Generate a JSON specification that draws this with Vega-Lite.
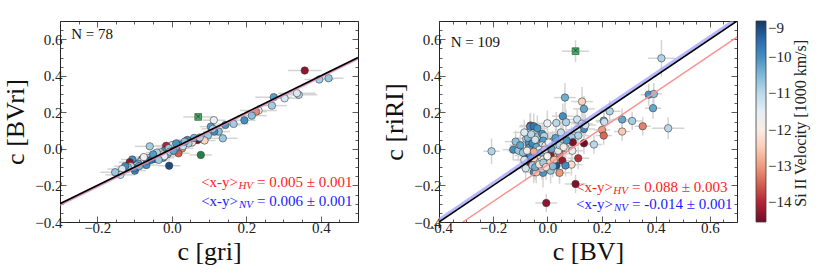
{
  "$schema": "https://vega.github.io/schema/vega-lite/v6.json",
  "background": "white",
  "padding": {"left": 2, "top": 13, "right": 4, "bottom": 4},
  "config": {
    "font": "Liberation Serif",
    "view": {"stroke": "#222", "strokeWidth": 1},
    "axis": {"domain": false, "grid": false, "labelFont": "Liberation Serif", "labelFontSize": 15, "labelColor": "#222", "tickColor": "#333", "tickWidth": 0.8, "titleFont": "Liberation Serif", "titleFontSize": 26, "titleFontWeight": "normal", "titleColor": "#111", "labelFlush": false, "labelOverlap": false},
    "legend": {"direction": "vertical", "gradientLength": 201, "gradientThickness": 10, "gradientStrokeColor": "#333", "gradientStrokeWidth": 0.8, "labelFont": "Liberation Serif", "labelFontSize": 15, "labelColor": "#222", "labelOffset": 5}
  },
  "datasets": {
    "L": [
      {"x":0.421,"y":0.387,"xe":0.04,"ye":0.01,"v":-10.7},
      {"x":0.396,"y":0.380,"xe":0.04,"ye":0.015,"v":-10.8},
      {"x":0.357,"y":0.429,"xe":0.045,"ye":0.015,"v":-14.3},
      {"x":0.341,"y":0.296,"xe":0.05,"ye":0.01,"v":-11.0},
      {"x":0.336,"y":0.305,"xe":0.05,"ye":0.01,"v":-11.4},
      {"x":0.303,"y":0.277,"xe":0.04,"ye":0.01,"v":-11.3},
      {"x":0.274,"y":0.283,"xe":0.05,"ye":0.01,"v":-10.2},
      {"x":0.269,"y":0.237,"xe":0.04,"ye":0.01,"v":-10.8},
      {"x":0.233,"y":0.210,"xe":0.05,"ye":0.015,"v":-11.5},
      {"x":0.226,"y":0.204,"xe":0.03,"ye":0.01,"v":-13.1},
      {"x":0.215,"y":0.182,"xe":0.04,"ye":0.01,"v":-10.6},
      {"x":0.195,"y":0.157,"xe":0.03,"ye":0.01,"v":-10.0},
      {"x":0.166,"y":0.137,"xe":0.04,"ye":0.01,"v":-10.8},
      {"x":0.144,"y":0.131,"xe":0.04,"ye":0.01,"v":-10.1},
      {"x":0.137,"y":0.058,"xe":0.04,"ye":0.01,"v":-10.7},
      {"x":0.126,"y":0.095,"xe":0.03,"ye":0.01,"v":-10.6},
      {"x":0.114,"y":0.095,"xe":0.03,"ye":0.01,"v":-10.0},
      {"x":0.113,"y":0.157,"xe":0.03,"ye":0.02,"v":-11.6},
      {"x":0.105,"y":0.122,"xe":0.03,"ye":0.01,"v":-10.2},
      {"x":0.110,"y":0.110,"xe":0.03,"ye":0.01,"v":-10.9},
      {"x":0.097,"y":0.073,"xe":0.03,"ye":0.01,"v":-10.7},
      {"x":0.088,"y":0.046,"xe":0.03,"ye":0.01,"v":-12.4},
      {"x":0.069,"y":0.049,"xe":0.03,"ye":0.01,"v":-14.5},
      {"x":0.055,"y":0.036,"xe":0.03,"ye":0.01,"v":-12.2},
      {"x":0.042,"y":0.049,"xe":0.03,"ye":0.01,"v":-10.0},
      {"x":0.045,"y":0.030,"xe":0.03,"ye":0.01,"v":-10.9},
      {"x":0.028,"y":0.003,"xe":0.03,"ye":0.01,"v":-13.0},
      {"x":0.023,"y":0.024,"xe":0.03,"ye":0.01,"v":-10.2},
      {"x":0.018,"y":-0.024,"xe":0.03,"ye":0.01,"v":-13.5},
      {"x":0.030,"y":0.015,"xe":0.03,"ye":0.01,"v":-11.2},
      {"x":0.010,"y":0.005,"xe":0.03,"ye":0.01,"v":-10.6},
      {"x":0.001,"y":0.021,"xe":0.03,"ye":0.01,"v":-11.3},
      {"x":0.060,"y":0.060,"xe":0.03,"ye":0.01,"v":-10.4},
      {"x":0.075,"y":0.062,"xe":0.03,"ye":0.01,"v":-11.0},
      {"x":0.012,"y":0.030,"xe":0.03,"ye":0.01,"v":-10.1},
      {"x":-0.015,"y":0.017,"xe":0.03,"ye":0.01,"v":-14.0},
      {"x":-0.020,"y":-0.010,"xe":0.03,"ye":0.01,"v":-10.1},
      {"x":-0.007,"y":-0.092,"xe":0.03,"ye":0.01,"v":-9.2},
      {"x":-0.008,"y":0.004,"xe":0.03,"ye":0.01,"v":-10.8},
      {"x":-0.023,"y":-0.049,"xe":0.03,"ye":0.01,"v":-10.1},
      {"x":-0.059,"y":0.014,"xe":0.04,"ye":0.02,"v":-10.8},
      {"x":-0.034,"y":-0.046,"xe":0.03,"ye":0.01,"v":-10.0},
      {"x":-0.043,"y":-0.037,"xe":0.03,"ye":0.01,"v":-11.4},
      {"x":-0.030,"y":-0.020,"xe":0.03,"ye":0.01,"v":-12.0},
      {"x":-0.050,"y":-0.040,"xe":0.03,"ye":0.01,"v":-12.3},
      {"x":-0.045,"y":-0.055,"xe":0.03,"ye":0.01,"v":-10.2},
      {"x":-0.060,"y":-0.050,"xe":0.03,"ye":0.01,"v":-11.0},
      {"x":-0.068,"y":-0.088,"xe":0.03,"ye":0.01,"v":-10.0},
      {"x":-0.070,"y":-0.060,"xe":0.03,"ye":0.01,"v":-10.6},
      {"x":-0.079,"y":-0.055,"xe":0.03,"ye":0.01,"v":-9.8},
      {"x":-0.085,"y":-0.070,"xe":0.03,"ye":0.01,"v":-11.6},
      {"x":-0.090,"y":-0.080,"xe":0.03,"ye":0.01,"v":-10.3},
      {"x":-0.095,"y":-0.090,"xe":0.03,"ye":0.01,"v":-10.9},
      {"x":-0.099,"y":-0.119,"xe":0.03,"ye":0.01,"v":-9.9},
      {"x":-0.100,"y":-0.105,"xe":0.03,"ye":0.01,"v":-10.1},
      {"x":-0.106,"y":-0.058,"xe":0.03,"ye":0.01,"v":-10.0},
      {"x":-0.113,"y":-0.073,"xe":0.03,"ye":0.01,"v":-14.2},
      {"x":-0.110,"y":-0.095,"xe":0.03,"ye":0.01,"v":-11.1},
      {"x":-0.118,"y":-0.100,"xe":0.03,"ye":0.01,"v":-10.7},
      {"x":-0.125,"y":-0.095,"xe":0.03,"ye":0.01,"v":-10.0},
      {"x":-0.133,"y":-0.110,"xe":0.04,"ye":0.01,"v":-11.5},
      {"x":-0.138,"y":-0.142,"xe":0.04,"ye":0.01,"v":-11.2},
      {"x":-0.152,"y":-0.128,"xe":0.04,"ye":0.01,"v":-10.7},
      {"x":-0.012,"y":-0.030,"xe":0.03,"ye":0.01,"v":-10.5},
      {"x":-0.025,"y":-0.030,"xe":0.03,"ye":0.01,"v":-12.5},
      {"x":-0.040,"y":-0.020,"xe":0.03,"ye":0.01,"v":-10.9},
      {"x":-0.005,"y":-0.015,"xe":0.03,"ye":0.01,"v":-11.0},
      {"x":0.005,"y":-0.010,"xe":0.03,"ye":0.01,"v":-10.3},
      {"x":-0.065,"y":-0.065,"xe":0.03,"ye":0.01,"v":-10.4},
      {"x":-0.075,"y":-0.045,"xe":0.03,"ye":0.01,"v":-11.8},
      {"x":-0.055,"y":-0.060,"xe":0.03,"ye":0.01,"v":-9.7},
      {"x":-0.088,"y":-0.095,"xe":0.03,"ye":0.01,"v":-10.5},
      {"x":-0.020,"y":-0.040,"xe":0.03,"ye":0.01,"v":-11.6},
      {"x":-0.050,"y":-0.030,"xe":0.03,"ye":0.01,"v":-10.2},
      {"x":-0.035,"y":-0.060,"xe":0.03,"ye":0.01,"v":-10.8},
      {"x":0.035,"y":0.040,"xe":0.03,"ye":0.01,"v":-10.6},
      {"x":0.078,"y":-0.033,"xe":0.03,"ye":0.01,"g":"circle"},
      {"x":0.071,"y":0.175,"xe":0.04,"ye":0.015,"g":"square"}
    ],
    "R": [
      {"x":0.421,"y":0.496,"xe":0.05,"ye":0.10,"v":-10.9},
      {"x":0.374,"y":0.297,"xe":0.03,"ye":0.06,"v":-10.1},
      {"x":0.393,"y":0.301,"xe":0.03,"ye":0.06,"v":-10.6},
      {"x":0.390,"y":0.223,"xe":0.03,"ye":0.06,"v":-10.3},
      {"x":0.446,"y":0.113,"xe":0.06,"ye":0.06,"v":-11.0},
      {"x":0.352,"y":0.124,"xe":0.03,"ye":0.05,"v":-13.2},
      {"x":0.313,"y":0.153,"xe":0.04,"ye":0.05,"v":-10.8},
      {"x":0.276,"y":0.161,"xe":0.04,"ye":0.06,"v":-10.3},
      {"x":0.276,"y":0.095,"xe":0.03,"ye":0.05,"v":-12.5},
      {"x":0.230,"y":0.206,"xe":0.04,"ye":0.06,"v":-10.9},
      {"x":0.208,"y":0.155,"xe":0.03,"ye":0.06,"v":-10.4},
      {"x":0.210,"y":0.148,"xe":0.03,"ye":0.05,"v":-11.2},
      {"x":0.202,"y":0.104,"xe":0.03,"ye":0.05,"v":-13.0},
      {"x":0.208,"y":0.073,"xe":0.03,"ye":0.05,"v":-13.4},
      {"x":0.172,"y":0.024,"xe":0.03,"ye":0.05,"v":-11.0},
      {"x":0.128,"y":0.259,"xe":0.04,"ye":0.08,"v":-12.4},
      {"x":0.135,"y":0.219,"xe":0.04,"ye":0.07,"v":-10.3},
      {"x":0.065,"y":0.281,"xe":0.04,"ye":0.08,"v":-10.4},
      {"x":0.110,"y":0.161,"xe":0.04,"ye":0.06,"v":-11.2},
      {"x":0.057,"y":0.179,"xe":0.04,"ye":0.07,"v":-10.0},
      {"x":0.069,"y":0.146,"xe":0.04,"ye":0.07,"v":-10.9},
      {"x":0.033,"y":0.142,"xe":0.05,"ye":0.06,"v":-11.0},
      {"x":0.000,"y":0.140,"xe":0.04,"ye":0.07,"v":-11.6},
      {"x":0.128,"y":0.138,"xe":0.04,"ye":0.06,"v":-11.4},
      {"x":0.135,"y":0.109,"xe":0.04,"ye":0.06,"v":-10.0},
      {"x":0.110,"y":0.105,"xe":0.04,"ye":0.06,"v":-11.3},
      {"x":0.114,"y":0.073,"xe":0.04,"ye":0.06,"v":-10.9},
      {"x":0.089,"y":0.064,"xe":0.04,"ye":0.06,"v":-10.8},
      {"x":0.135,"y":0.031,"xe":0.04,"ye":0.06,"v":-14.5},
      {"x":0.094,"y":0.036,"xe":0.04,"ye":0.06,"v":-14.4},
      {"x":0.114,"y":-0.051,"xe":0.04,"ye":0.06,"v":-13.9},
      {"x":0.104,"y":-0.192,"xe":0.04,"ye":0.05,"v":-14.4},
      {"x":-0.004,"y":-0.296,"xe":0.04,"ye":0.05,"v":-14.3},
      {"x":0.055,"y":-0.064,"xe":0.04,"ye":0.06,"v":-14.2},
      {"x":0.045,"y":-0.027,"xe":0.04,"ye":0.06,"v":-13.2},
      {"x":0.089,"y":-0.086,"xe":0.04,"ye":0.06,"v":-12.3},
      {"x":0.071,"y":0.046,"xe":0.04,"ye":0.06,"v":-10.1},
      {"x":0.067,"y":0.004,"xe":0.04,"ye":0.06,"v":-11.3},
      {"x":0.092,"y":-0.010,"xe":0.04,"ye":0.06,"v":-11.6},
      {"x":0.067,"y":-0.091,"xe":0.04,"ye":0.06,"v":-10.0},
      {"x":0.045,"y":-0.131,"xe":0.04,"ye":0.06,"v":-13.0},
      {"x":0.033,"y":-0.091,"xe":0.04,"ye":0.06,"v":-9.3},
      {"x":0.012,"y":-0.119,"xe":0.04,"ye":0.07,"v":-10.7},
      {"x":-0.016,"y":-0.131,"xe":0.04,"ye":0.08,"v":-10.1},
      {"x":-0.020,"y":-0.108,"xe":0.04,"ye":0.06,"v":-11.1},
      {"x":-0.050,"y":-0.128,"xe":0.04,"ye":0.06,"v":-10.0},
      {"x":-0.041,"y":-0.128,"xe":0.04,"ye":0.06,"v":-12.5},
      {"x":-0.080,"y":-0.106,"xe":0.04,"ye":0.06,"v":-11.2},
      {"x":-0.206,"y":-0.013,"xe":0.03,"ye":0.07,"v":-10.9},
      {"x":-0.117,"y":0.040,"xe":0.04,"ye":0.06,"v":-10.6},
      {"x":-0.126,"y":-0.004,"xe":0.04,"ye":0.06,"v":-10.0},
      {"x":-0.107,"y":-0.009,"xe":0.04,"ye":0.06,"v":-10.7},
      {"x":-0.078,"y":0.055,"xe":0.04,"ye":0.06,"v":-11.1},
      {"x":-0.062,"y":0.128,"xe":0.04,"ye":0.07,"v":-13.6},
      {"x":-0.064,"y":0.122,"xe":0.04,"ye":0.07,"v":-10.0},
      {"x":-0.050,"y":0.124,"xe":0.04,"ye":0.07,"v":-9.8},
      {"x":-0.037,"y":0.113,"xe":0.04,"ye":0.07,"v":-10.1},
      {"x":-0.068,"y":0.031,"xe":0.04,"ye":0.06,"v":-10.1},
      {"x":-0.068,"y":0.005,"xe":0.04,"ye":0.06,"v":-10.2},
      {"x":-0.080,"y":-0.036,"xe":0.04,"ye":0.06,"v":-9.3},
      {"x":-0.064,"y":-0.073,"xe":0.04,"ye":0.06,"v":-14.3},
      {"x":-0.035,"y":0.069,"xe":0.04,"ye":0.06,"v":-10.7},
      {"x":-0.031,"y":0.027,"xe":0.04,"ye":0.06,"v":-10.2},
      {"x":-0.019,"y":0.082,"xe":0.04,"ye":0.06,"v":-10.1},
      {"x":-0.012,"y":0.070,"xe":0.04,"ye":0.06,"v":-11.0},
      {"x":-0.015,"y":0.045,"xe":0.04,"ye":0.06,"v":-10.2},
      {"x":-0.019,"y":0.020,"xe":0.04,"ye":0.06,"v":-11.4},
      {"x":-0.007,"y":0.018,"xe":0.04,"ye":0.06,"v":-12.2},
      {"x":0.003,"y":-0.018,"xe":0.04,"ye":0.06,"v":-9.2},
      {"x":0.012,"y":-0.033,"xe":0.04,"ye":0.06,"v":-14.2},
      {"x":0.006,"y":-0.065,"xe":0.04,"ye":0.06,"v":-12.4},
      {"x":-0.009,"y":-0.047,"xe":0.04,"ye":0.06,"v":-11.3},
      {"x":-0.025,"y":-0.052,"xe":0.04,"ye":0.06,"v":-11.5},
      {"x":-0.037,"y":-0.036,"xe":0.04,"ye":0.06,"v":-12.3},
      {"x":-0.043,"y":-0.073,"xe":0.04,"ye":0.06,"v":-11.4},
      {"x":-0.050,"y":-0.051,"xe":0.04,"ye":0.06,"v":-12.4},
      {"x":-0.062,"y":-0.036,"xe":0.04,"ye":0.06,"v":-10.1},
      {"x":-0.072,"y":0.060,"xe":0.04,"ye":0.06,"v":-10.5},
      {"x":-0.060,"y":0.080,"xe":0.04,"ye":0.07,"v":-11.0},
      {"x":-0.055,"y":0.030,"xe":0.04,"ye":0.06,"v":-10.0},
      {"x":-0.045,"y":0.050,"xe":0.04,"ye":0.06,"v":-11.3},
      {"x":-0.040,"y":0.010,"xe":0.04,"ye":0.06,"v":-10.4},
      {"x":-0.030,"y":-0.005,"xe":0.04,"ye":0.06,"v":-11.6},
      {"x":-0.022,"y":-0.020,"xe":0.04,"ye":0.06,"v":-10.6},
      {"x":-0.010,"y":-0.005,"xe":0.04,"ye":0.06,"v":-12.0},
      {"x":0.000,"y":-0.040,"xe":0.04,"ye":0.06,"v":-11.8},
      {"x":0.015,"y":0.000,"xe":0.04,"ye":0.06,"v":-10.3},
      {"x":0.020,"y":0.040,"xe":0.04,"ye":0.06,"v":-11.0},
      {"x":0.025,"y":-0.060,"xe":0.04,"ye":0.06,"v":-12.6},
      {"x":-0.055,"y":-0.090,"xe":0.04,"ye":0.06,"v":-11.0},
      {"x":-0.045,"y":-0.100,"xe":0.04,"ye":0.07,"v":-10.4},
      {"x":-0.030,"y":-0.085,"xe":0.04,"ye":0.06,"v":-12.1},
      {"x":-0.015,"y":-0.075,"xe":0.04,"ye":0.06,"v":-10.8},
      {"x":-0.085,"y":-0.060,"xe":0.04,"ye":0.06,"v":-11.5},
      {"x":-0.090,"y":-0.020,"xe":0.04,"ye":0.06,"v":-10.7},
      {"x":-0.075,"y":-0.010,"xe":0.04,"ye":0.06,"v":-11.9},
      {"x":-0.050,"y":-0.015,"xe":0.04,"ye":0.06,"v":-12.8},
      {"x":0.030,"y":0.060,"xe":0.04,"ye":0.06,"v":-10.2},
      {"x":0.040,"y":-0.010,"xe":0.04,"ye":0.06,"v":-11.5},
      {"x":0.045,"y":0.020,"xe":0.04,"ye":0.06,"v":-10.9},
      {"x":0.050,"y":0.090,"xe":0.04,"ye":0.07,"v":-11.1},
      {"x":0.020,"y":-0.095,"xe":0.04,"ye":0.06,"v":-10.6},
      {"x":-0.100,"y":0.020,"xe":0.04,"ye":0.06,"v":-10.3},
      {"x":-0.085,"y":0.090,"xe":0.04,"ye":0.07,"v":-11.4},
      {"x":0.005,"y":0.035,"xe":0.04,"ye":0.06,"v":-11.7},
      {"x":-0.005,"y":-0.100,"xe":0.04,"ye":0.07,"v":-12.2},
      {"x":0.060,"y":0.010,"xe":0.04,"ye":0.06,"v":-12.0},
      {"x":0.140,"y":0.130,"xe":0.04,"ye":0.06,"v":-11.3},
      {"x":0.104,"y":0.535,"xe":0.05,"ye":0.06,"g":"square"}
    ],
    "Llines": [
      {"line":"NV","x1":-0.3,"y1":-0.306,"x2":0.5,"y2":0.494},
      {"line":"HV","x1":-0.3,"y1":-0.305,"x2":0.5,"y2":0.495},
      {"line":"one","x1":-0.3,"y1":-0.3,"x2":0.5,"y2":0.5}
    ],
    "Rlines": [
      {"line":"NV","x1":-0.414,"y1":-0.4,"x2":0.686,"y2":0.7},
      {"line":"HV","x1":-0.312,"y1":-0.4,"x2":0.7,"y2":0.612},
      {"line":"one","x1":-0.4,"y1":-0.4,"x2":0.7,"y2":0.7}
    ]
  },
  "hconcat": [
    {
      "width": 298,
      "height": 201,
      "resolve": {"axis": {"x": "independent", "y": "independent"}},
      "layer": [
        {"data": {"name": "L"}, "mark": {"type": "errorbar", "color": "#d4d4d4", "thickness": 1.5},
         "encoding": {"x": {"field": "x", "type": "quantitative", "scale": {"domain": [-0.3, 0.5]}, "axis": null}, "xError": {"field": "xe"}, "y": {"field": "y", "type": "quantitative", "scale": {"domain": [-0.4, 0.7]}, "axis": null}}},
        {"data": {"name": "L"}, "mark": {"type": "errorbar", "color": "#d4d4d4", "thickness": 1.5},
         "encoding": {"x": {"field": "x", "type": "quantitative", "scale": {"domain": [-0.3, 0.5]}, "axis": null}, "y": {"field": "y", "type": "quantitative", "scale": {"domain": [-0.4, 0.7]}, "axis": null}, "yError": {"field": "ye"}}},
        {"data": {"name": "L"}, "transform": [{"filter": "!datum.g"}], "mark": {"type": "circle", "size": 55, "stroke": "#333", "strokeWidth": 0.6, "opacity": 0.95},
         "encoding": {
           "x": {"field": "x", "type": "quantitative", "scale": {"domain": [-0.3, 0.5]}, "axis": {"orient": "bottom", "title": "c [gri]", "labelFont": "Liberation Serif", "titleFont": "Liberation Serif", "values": [-0.3,-0.25,-0.2,-0.15,-0.1,-0.05,0,0.05,0.1,0.15,0.2,0.25,0.3,0.35,0.4,0.45,0.5], "labelExpr": "abs(datum.value*5 - round(datum.value*5)) < 0.000001 ? format(datum.value, '.1f') : ''", "tickSize": {"condition": {"test": "abs(datum.value*5 - round(datum.value*5)) < 0.000001", "value": -6}, "value": -3}, "labelPadding": 4, "titlePadding": 0}},
           "y": {"field": "y", "type": "quantitative", "scale": {"domain": [-0.4, 0.7]}, "axis": {"orient": "left", "title": "c [BVri]", "labelFont": "Liberation Serif", "titleFont": "Liberation Serif", "values": [-0.4,-0.35,-0.3,-0.25,-0.2,-0.15,-0.1,-0.05,0,0.05,0.1,0.15,0.2,0.25,0.3,0.35,0.4,0.45,0.5,0.55,0.6,0.65,0.7], "labelExpr": "abs(datum.value*5 - round(datum.value*5)) < 0.000001 ? format(datum.value, '.1f') : ''", "tickSize": {"condition": {"test": "abs(datum.value*5 - round(datum.value*5)) < 0.000001", "value": -6}, "value": -3}, "labelPadding": 4, "titlePadding": 6}},
           "color": {"field": "v", "type": "quantitative", "scale": {"domain": [-14.55, -13.995, -13.44, -12.885, -12.33, -11.775, -11.22, -10.665, -10.11, -9.555, -9], "range": ["#67001f", "#b2182b", "#d6604d", "#f4a582", "#fddbc7", "#f7f7f7", "#d1e5f0", "#92c5de", "#4393c3", "#2166ac", "#053061"], "interpolate": "rgb"}, "legend": {"title": null, "orient": "none", "legendX": 696, "legendY": 0, "labelFont": "Liberation Serif", "values": [-14, -13, -12, -11, -10, -9], "format": "d"}}
         }},
        {"data": {"name": "L"}, "transform": [{"filter": "datum.g == 'circle'"}], "mark": {"type": "circle", "size": 55, "color": "#1e7a3e", "stroke": "#333", "strokeWidth": 0.6, "opacity": 0.95},
         "encoding": {"x": {"field": "x", "type": "quantitative", "scale": {"domain": [-0.3, 0.5]}, "axis": null}, "y": {"field": "y", "type": "quantitative", "scale": {"domain": [-0.4, 0.7]}, "axis": null}}},
        {"data": {"name": "L"}, "transform": [{"filter": "datum.g == 'square'"}], "mark": {"type": "square", "size": 45, "color": "#4fae6a", "stroke": "#1d5e33", "strokeWidth": 0.7, "opacity": 1},
         "encoding": {"x": {"field": "x", "type": "quantitative", "scale": {"domain": [-0.3, 0.5]}, "axis": null}, "y": {"field": "y", "type": "quantitative", "scale": {"domain": [-0.4, 0.7]}, "axis": null}}},
        {"data": {"name": "L"}, "transform": [{"filter": "datum.g == 'square'"}], "mark": {"type": "text", "text": "×", "fontSize": 11, "color": "#123d20", "baseline": "middle", "align": "center"},
         "encoding": {"x": {"field": "x", "type": "quantitative", "scale": {"domain": [-0.3, 0.5]}, "axis": null}, "y": {"field": "y", "type": "quantitative", "scale": {"domain": [-0.4, 0.7]}, "axis": null}}},
        {"data": {"name": "Llines"}, "transform": [{"filter": "datum.line == 'NV'"}], "mark": {"type": "rule", "color": "#9a9aff", "strokeWidth": 2.5, "opacity": 0.7, "clip": true},
         "encoding": {"x": {"field": "x1", "type": "quantitative", "scale": {"domain": [-0.3, 0.5]}, "axis": null}, "x2": {"field": "x2"}, "y": {"field": "y1", "type": "quantitative", "scale": {"domain": [-0.4, 0.7]}, "axis": null}, "y2": {"field": "y2"}}},
        {"data": {"name": "Llines"}, "transform": [{"filter": "datum.line == 'HV'"}], "mark": {"type": "rule", "color": "#ff8a8a", "strokeWidth": 1.5, "clip": true},
         "encoding": {"x": {"field": "x1", "type": "quantitative", "scale": {"domain": [-0.3, 0.5]}, "axis": null}, "x2": {"field": "x2"}, "y": {"field": "y1", "type": "quantitative", "scale": {"domain": [-0.4, 0.7]}, "axis": null}, "y2": {"field": "y2"}}},
        {"data": {"name": "Llines"}, "transform": [{"filter": "datum.line == 'one'"}], "mark": {"type": "rule", "color": "#000000", "strokeWidth": 1.6, "clip": true},
         "encoding": {
           "x": {"field": "x1", "type": "quantitative", "scale": {"domain": [-0.3, 0.5]}, "axis": {"orient": "top", "labels": false, "title": null, "values": [-0.3,-0.25,-0.2,-0.15,-0.1,-0.05,0,0.05,0.1,0.15,0.2,0.25,0.3,0.35,0.4,0.45,0.5], "tickSize": {"condition": {"test": "abs(datum.value*5 - round(datum.value*5)) < 0.000001", "value": -6}, "value": -3}}},
           "x2": {"field": "x2"},
           "y": {"field": "y1", "type": "quantitative", "scale": {"domain": [-0.4, 0.7]}, "axis": {"orient": "right", "labels": false, "title": null, "values": [-0.4,-0.35,-0.3,-0.25,-0.2,-0.15,-0.1,-0.05,0,0.05,0.1,0.15,0.2,0.25,0.3,0.35,0.4,0.45,0.5,0.55,0.6,0.65,0.7], "tickSize": {"condition": {"test": "abs(datum.value*5 - round(datum.value*5)) < 0.000001", "value": -6}, "value": -3}}},
           "y2": {"field": "y2"}}},
        {"data": {"values": [{}]}, "mark": {"type": "text", "text": "N = 78", "fontSize": 15, "color": "#111", "align": "left", "baseline": "middle"},
         "encoding": {"x": {"datum": -0.27, "type": "quantitative", "scale": {"domain": [-0.3, 0.5]}, "axis": null}, "y": {"datum": 0.629, "type": "quantitative", "scale": {"domain": [-0.4, 0.7]}, "axis": null}}},
        {"data": {"values": [{}]}, "mark": {"type": "text", "text": "= 0.005 ± 0.001", "fontSize": 15, "color": "#ff1a1a", "align": "left", "baseline": "middle"},
         "encoding": {"x": {"datum": 0.229, "type": "quantitative", "scale": {"domain": [-0.3, 0.5]}, "axis": null}, "y": {"datum": -0.183, "type": "quantitative", "scale": {"domain": [-0.4, 0.7]}, "axis": null}}},
        {"data": {"values": [{}]}, "mark": {"type": "text", "text": "HV", "fontSize": 11, "fontStyle": "italic", "color": "#ff1a1a", "align": "right", "baseline": "middle", "dx": -4, "dy": 4},
         "encoding": {"x": {"datum": 0.229, "type": "quantitative", "scale": {"domain": [-0.3, 0.5]}, "axis": null}, "y": {"datum": -0.183, "type": "quantitative", "scale": {"domain": [-0.4, 0.7]}, "axis": null}}},
        {"data": {"values": [{}]}, "mark": {"type": "text", "text": "<x-y>", "fontSize": 15, "color": "#ff1a1a", "align": "right", "baseline": "middle", "dx": -19},
         "encoding": {"x": {"datum": 0.229, "type": "quantitative", "scale": {"domain": [-0.3, 0.5]}, "axis": null}, "y": {"datum": -0.183, "type": "quantitative", "scale": {"domain": [-0.4, 0.7]}, "axis": null}}},
        {"data": {"values": [{}]}, "mark": {"type": "text", "text": "= 0.006 ± 0.001", "fontSize": 15, "color": "#1a1aff", "align": "left", "baseline": "middle"},
         "encoding": {"x": {"datum": 0.229, "type": "quantitative", "scale": {"domain": [-0.3, 0.5]}, "axis": null}, "y": {"datum": -0.284, "type": "quantitative", "scale": {"domain": [-0.4, 0.7]}, "axis": null}}},
        {"data": {"values": [{}]}, "mark": {"type": "text", "text": "NV", "fontSize": 11, "fontStyle": "italic", "color": "#1a1aff", "align": "right", "baseline": "middle", "dx": -4, "dy": 4},
         "encoding": {"x": {"datum": 0.229, "type": "quantitative", "scale": {"domain": [-0.3, 0.5]}, "axis": null}, "y": {"datum": -0.284, "type": "quantitative", "scale": {"domain": [-0.4, 0.7]}, "axis": null}}},
        {"data": {"values": [{}]}, "mark": {"type": "text", "text": "<x-y>", "fontSize": 15, "color": "#1a1aff", "align": "right", "baseline": "middle", "dx": -19},
         "encoding": {"x": {"datum": 0.229, "type": "quantitative", "scale": {"domain": [-0.3, 0.5]}, "axis": null}, "y": {"datum": -0.284, "type": "quantitative", "scale": {"domain": [-0.4, 0.7]}, "axis": null}}}
      ]
    },
    {
      "width": 298,
      "height": 201,
      "resolve": {"axis": {"x": "independent", "y": "independent"}},
      "layer": [
        {"data": {"name": "R"}, "mark": {"type": "errorbar", "color": "#d4d4d4", "thickness": 1.5},
         "encoding": {"x": {"field": "x", "type": "quantitative", "scale": {"domain": [-0.4, 0.7]}, "axis": null}, "xError": {"field": "xe"}, "y": {"field": "y", "type": "quantitative", "scale": {"domain": [-0.4, 0.7]}, "axis": null}}},
        {"data": {"name": "R"}, "mark": {"type": "errorbar", "color": "#d4d4d4", "thickness": 1.5},
         "encoding": {"x": {"field": "x", "type": "quantitative", "scale": {"domain": [-0.4, 0.7]}, "axis": null}, "y": {"field": "y", "type": "quantitative", "scale": {"domain": [-0.4, 0.7]}, "axis": null}, "yError": {"field": "ye"}}},
        {"data": {"name": "R"}, "transform": [{"filter": "!datum.g"}], "mark": {"type": "circle", "size": 55, "stroke": "#333", "strokeWidth": 0.6, "opacity": 0.95},
         "encoding": {
           "x": {"field": "x", "type": "quantitative", "scale": {"domain": [-0.4, 0.7]}, "axis": {"orient": "bottom", "title": "c [BV]", "labelFont": "Liberation Serif", "titleFont": "Liberation Serif", "values": [-0.4,-0.35,-0.3,-0.25,-0.2,-0.15,-0.1,-0.05,0,0.05,0.1,0.15,0.2,0.25,0.3,0.35,0.4,0.45,0.5,0.55,0.6,0.65,0.7], "labelExpr": "abs(datum.value*5 - round(datum.value*5)) < 0.000001 ? format(datum.value, '.1f') : ''", "tickSize": {"condition": {"test": "abs(datum.value*5 - round(datum.value*5)) < 0.000001", "value": -6}, "value": -3}, "labelPadding": 4, "titlePadding": 0}},
           "y": {"field": "y", "type": "quantitative", "scale": {"domain": [-0.4, 0.7]}, "axis": {"orient": "left", "title": "c [riRI]", "labelFont": "Liberation Serif", "titleFont": "Liberation Serif", "values": [-0.4,-0.35,-0.3,-0.25,-0.2,-0.15,-0.1,-0.05,0,0.05,0.1,0.15,0.2,0.25,0.3,0.35,0.4,0.45,0.5,0.55,0.6,0.65,0.7], "labelExpr": "abs(datum.value*5 - round(datum.value*5)) < 0.000001 ? format(datum.value, '.1f') : ''", "tickSize": {"condition": {"test": "abs(datum.value*5 - round(datum.value*5)) < 0.000001", "value": -6}, "value": -3}, "labelPadding": 4, "titlePadding": 6}},
           "color": {"field": "v", "type": "quantitative", "scale": {"domain": [-14.55, -13.995, -13.44, -12.885, -12.33, -11.775, -11.22, -10.665, -10.11, -9.555, -9], "range": ["#67001f", "#b2182b", "#d6604d", "#f4a582", "#fddbc7", "#f7f7f7", "#d1e5f0", "#92c5de", "#4393c3", "#2166ac", "#053061"], "interpolate": "rgb"}, "legend": {"title": null, "orient": "none", "legendX": 696, "legendY": 0, "labelFont": "Liberation Serif", "values": [-14, -13, -12, -11, -10, -9], "format": "d"}}
         }},
        {"data": {"name": "R"}, "transform": [{"filter": "datum.g == 'square'"}], "mark": {"type": "square", "size": 45, "color": "#4fae6a", "stroke": "#1d5e33", "strokeWidth": 0.7, "opacity": 1},
         "encoding": {"x": {"field": "x", "type": "quantitative", "scale": {"domain": [-0.4, 0.7]}, "axis": null}, "y": {"field": "y", "type": "quantitative", "scale": {"domain": [-0.4, 0.7]}, "axis": null}}},
        {"data": {"name": "R"}, "transform": [{"filter": "datum.g == 'square'"}], "mark": {"type": "text", "text": "×", "fontSize": 11, "color": "#123d20", "baseline": "middle", "align": "center"},
         "encoding": {"x": {"field": "x", "type": "quantitative", "scale": {"domain": [-0.4, 0.7]}, "axis": null}, "y": {"field": "y", "type": "quantitative", "scale": {"domain": [-0.4, 0.7]}, "axis": null}}},
        {"data": {"name": "Rlines"}, "transform": [{"filter": "datum.line == 'NV'"}], "mark": {"type": "rule", "color": "#9a9aff", "strokeWidth": 3, "opacity": 0.7, "clip": true},
         "encoding": {"x": {"field": "x1", "type": "quantitative", "scale": {"domain": [-0.4, 0.7]}, "axis": null}, "x2": {"field": "x2"}, "y": {"field": "y1", "type": "quantitative", "scale": {"domain": [-0.4, 0.7]}, "axis": null}, "y2": {"field": "y2"}}},
        {"data": {"name": "Rlines"}, "transform": [{"filter": "datum.line == 'HV'"}], "mark": {"type": "rule", "color": "#ff9090", "strokeWidth": 1.5, "clip": true},
         "encoding": {"x": {"field": "x1", "type": "quantitative", "scale": {"domain": [-0.4, 0.7]}, "axis": null}, "x2": {"field": "x2"}, "y": {"field": "y1", "type": "quantitative", "scale": {"domain": [-0.4, 0.7]}, "axis": null}, "y2": {"field": "y2"}}},
        {"data": {"name": "Rlines"}, "transform": [{"filter": "datum.line == 'one'"}], "mark": {"type": "rule", "color": "#000000", "strokeWidth": 1.6, "clip": true},
         "encoding": {
           "x": {"field": "x1", "type": "quantitative", "scale": {"domain": [-0.4, 0.7]}, "axis": {"orient": "top", "labels": false, "title": null, "values": [-0.4,-0.35,-0.3,-0.25,-0.2,-0.15,-0.1,-0.05,0,0.05,0.1,0.15,0.2,0.25,0.3,0.35,0.4,0.45,0.5,0.55,0.6,0.65,0.7], "tickSize": {"condition": {"test": "abs(datum.value*5 - round(datum.value*5)) < 0.000001", "value": -6}, "value": -3}}},
           "x2": {"field": "x2"},
           "y": {"field": "y1", "type": "quantitative", "scale": {"domain": [-0.4, 0.7]}, "axis": {"orient": "right", "labels": false, "title": null, "values": [-0.4,-0.35,-0.3,-0.25,-0.2,-0.15,-0.1,-0.05,0,0.05,0.1,0.15,0.2,0.25,0.3,0.35,0.4,0.45,0.5,0.55,0.6,0.65,0.7], "tickSize": {"condition": {"test": "abs(datum.value*5 - round(datum.value*5)) < 0.000001", "value": -6}, "value": -3}}},
           "y2": {"field": "y2"}}},
        {"data": {"values": [{}]}, "mark": {"type": "text", "text": "N = 109", "fontSize": 15, "color": "#111", "align": "left", "baseline": "middle"},
         "encoding": {"x": {"datum": -0.357, "type": "quantitative", "scale": {"domain": [-0.4, 0.7]}, "axis": null}, "y": {"datum": 0.587, "type": "quantitative", "scale": {"domain": [-0.4, 0.7]}, "axis": null}}},
        {"data": {"values": [{}]}, "mark": {"type": "text", "text": "Si II Velocity [1000 km/s]", "fontSize": 16, "color": "#222", "align": "center", "baseline": "middle", "angle": 270},
         "encoding": {"x": {"datum": 0.937, "type": "quantitative", "scale": {"domain": [-0.4, 0.7]}, "axis": null}, "y": {"datum": 0.14, "type": "quantitative", "scale": {"domain": [-0.4, 0.7]}, "axis": null}}},
        {"data": {"values": [{}]}, "mark": {"type": "text", "text": "= 0.088 ± 0.003", "fontSize": 15, "color": "#ff1a1a", "align": "left", "baseline": "middle"},
         "encoding": {"x": {"datum": 0.3125, "type": "quantitative", "scale": {"domain": [-0.4, 0.7]}, "axis": null}, "y": {"datum": -0.207, "type": "quantitative", "scale": {"domain": [-0.4, 0.7]}, "axis": null}}},
        {"data": {"values": [{}]}, "mark": {"type": "text", "text": "HV", "fontSize": 11, "fontStyle": "italic", "color": "#ff1a1a", "align": "right", "baseline": "middle", "dx": -4, "dy": 4},
         "encoding": {"x": {"datum": 0.3125, "type": "quantitative", "scale": {"domain": [-0.4, 0.7]}, "axis": null}, "y": {"datum": -0.207, "type": "quantitative", "scale": {"domain": [-0.4, 0.7]}, "axis": null}}},
        {"data": {"values": [{}]}, "mark": {"type": "text", "text": "<x-y>", "fontSize": 15, "color": "#ff1a1a", "align": "right", "baseline": "middle", "dx": -19},
         "encoding": {"x": {"datum": 0.3125, "type": "quantitative", "scale": {"domain": [-0.4, 0.7]}, "axis": null}, "y": {"datum": -0.207, "type": "quantitative", "scale": {"domain": [-0.4, 0.7]}, "axis": null}}},
        {"data": {"values": [{}]}, "mark": {"type": "text", "text": "= -0.014 ± 0.001", "fontSize": 15, "color": "#1a1aff", "align": "left", "baseline": "middle"},
         "encoding": {"x": {"datum": 0.3125, "type": "quantitative", "scale": {"domain": [-0.4, 0.7]}, "axis": null}, "y": {"datum": -0.302, "type": "quantitative", "scale": {"domain": [-0.4, 0.7]}, "axis": null}}},
        {"data": {"values": [{}]}, "mark": {"type": "text", "text": "NV", "fontSize": 11, "fontStyle": "italic", "color": "#1a1aff", "align": "right", "baseline": "middle", "dx": -4, "dy": 4},
         "encoding": {"x": {"datum": 0.3125, "type": "quantitative", "scale": {"domain": [-0.4, 0.7]}, "axis": null}, "y": {"datum": -0.302, "type": "quantitative", "scale": {"domain": [-0.4, 0.7]}, "axis": null}}},
        {"data": {"values": [{}]}, "mark": {"type": "text", "text": "<x-y>", "fontSize": 15, "color": "#1a1aff", "align": "right", "baseline": "middle", "dx": -19},
         "encoding": {"x": {"datum": 0.3125, "type": "quantitative", "scale": {"domain": [-0.4, 0.7]}, "axis": null}, "y": {"datum": -0.302, "type": "quantitative", "scale": {"domain": [-0.4, 0.7]}, "axis": null}}}
      ]
    }
  ],
  "spacing": 81,
  "bounds": "flush",
  "resolve": {"scale": {"color": "shared"}}
}
